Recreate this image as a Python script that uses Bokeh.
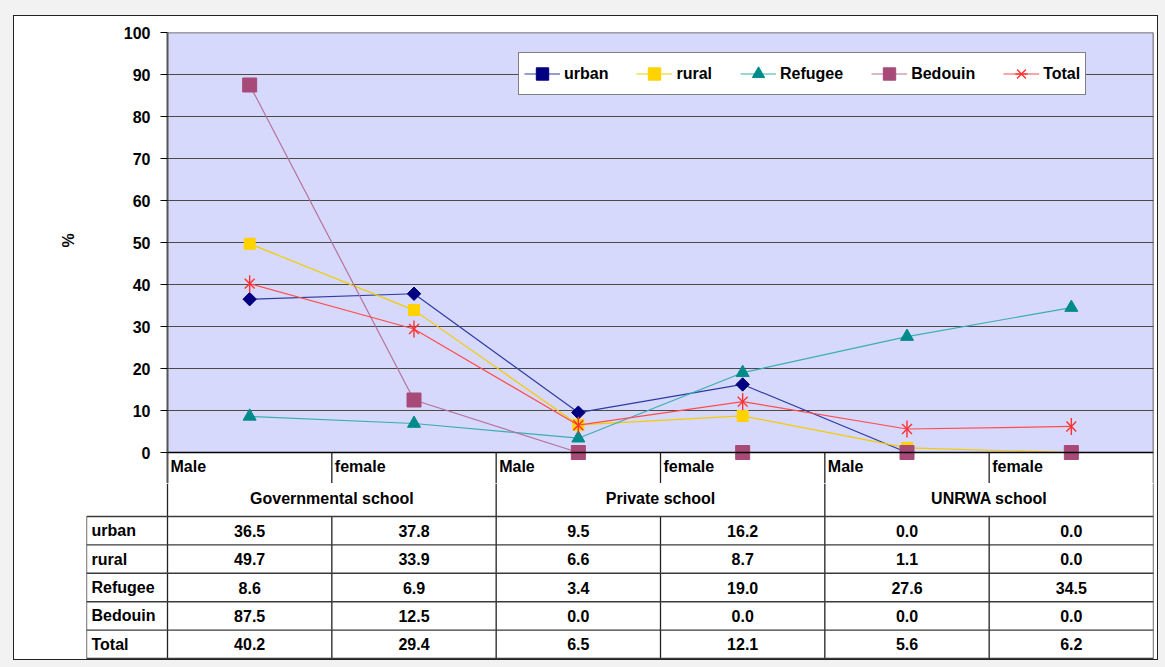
from bokeh.plotting import figure
from bokeh.models import Range1d, FixedTicker, Legend, LegendItem, Span
from bokeh.layouts import column, row
from bokeh.embed import file_html
from bokeh.resources import INLINE
from bokeh.core.properties import value
import math

# ---------------- data ----------------
schools = ["Governmental school", "Private school", "UNRWA school"]
genders = ["Male", "female"]
series_names = ["urban", "rural", "Refugee", "Bedouin", "Total"]
urban = [36.5, 37.8, 9.5, 16.2, 0.0, 0.0]
rural = [49.7, 33.9, 6.6, 8.7, 1.1, 0.0]
refugee = [8.6, 6.9, 3.4, 19.0, 27.6, 34.5]
bedouin = [87.5, 12.5, 0.0, 0.0, 0.0, 0.0]
total = [40.2, 29.4, 6.5, 12.1, 5.6, 6.2]
y_ticks = [0, 10, 20, 30, 40, 50, 60, 70, 80, 90, 100]
y_label = "%"

series_values = [urban, rural, refugee, bedouin, total]

# ---------------- style ----------------
FONT = "Liberation Sans"
FS = "16px"
OX, OY = 14, 16      # white chart area offset inside the grey page
W = 1143             # total width of the white chart area
W_LBL = 100          # width of the strip holding the y-axis title
LEFT = 167 - OX      # frame left measured from the white area's left edge
RIGHT = 4
TOP = 32 - OY
ZERO_Y = 452         # page y of value 0
SPLIT_Y = 483        # page y where the table figure starts
BOT_Y = 659
TOP_H = SPLIT_Y - OY
TBL_H = BOT_Y - SPLIT_Y
PX_PER_Y = 4.2
Y_START = -(SPLIT_Y - ZERO_Y) / PX_PER_Y
n_cat = len(schools) * len(genders)
ppu = (W - LEFT - RIGHT) / n_cat
x_pos = [i + 0.5 for i in range(n_cat)]
cat_labels = [g for s in schools for g in genders]

line_colors = ["#2E3CA0", "#F2CC00", "#3AAFAF", "#B5739A", "#FF4D4D"]
marker_colors = ["#000080", "#FFD200", "#008B8B", "#A84A78", "#FF3030"]
txt = dict(text_font=value(FONT), text_font_size=FS, text_font_style="bold", text_color="black")

common = dict(output_backend="svg", toolbar_location=None,
              background_fill_color="white", border_fill_color="white",
              outline_line_color=None)

# ---------------- y-axis title strip ----------------
lbl = figure(width=W_LBL, height=TOP_H, x_range=Range1d(OX, OX + W_LBL),
             y_range=Range1d(SPLIT_Y, OY), x_axis_location=None, y_axis_location=None,
             min_border_left=0, min_border_right=0, min_border_top=0, min_border_bottom=0,
             **common)
lbl.frame_align = False
lbl.xgrid.visible = False
lbl.ygrid.visible = False
lbl.text(x=[68], y=[240], text=[y_label], angle=math.pi / 2,
         text_align="center", text_baseline="middle", **txt)

# ---------------- chart ----------------
p = figure(width=W - W_LBL, height=TOP_H, x_range=Range1d(0, n_cat),
           y_range=Range1d(Y_START, 100), x_axis_location=None,
           min_border_left=LEFT - W_LBL, min_border_right=RIGHT,
           min_border_top=TOP, min_border_bottom=0, **common)
p.frame_align = False

bg = p.quad(left=0, right=n_cat, bottom=0, top=100, fill_color="#D6D8FC", line_color=None)
bg.level = "image"

p.xgrid.visible = False
p.ygrid.ticker = FixedTicker(ticks=y_ticks)
p.ygrid.grid_line_color = "#4A4A4A"
p.ygrid.grid_line_width = 1.2

ax = p.yaxis[0]
ax.ticker = FixedTicker(ticks=y_ticks)
ax.major_label_text_font = FONT
ax.major_label_text_font_size = FS
ax.major_label_text_font_style = "bold"
ax.major_label_text_color = "black"
ax.axis_line_color = "#555555"
ax.axis_line_width = 2
ax.major_tick_out = 7
ax.major_tick_in = 0
ax.major_tick_line_color = "black"
ax.minor_tick_line_color = None
ax.major_label_standoff = 10

p.add_layout(Span(location=0, dimension="width", line_color="black", line_width=1.5))
p.add_layout(Span(location=n_cat, dimension="height", line_color="#333333", line_width=1.5))
p.add_layout(Span(location=100, dimension="width", line_color="#4A4A4A", line_width=1.5))
# category separators below the zero line
sep_x = [i for i in range(1, n_cat)]
p.segment(x0=sep_x, y0=[0] * len(sep_x), x1=sep_x, y1=[Y_START] * len(sep_x),
          line_color="#222222", line_width=1.3)
# category labels (Male / female)
p.text(x=list(range(n_cat)), y=[-(466 - ZERO_Y) / PX_PER_Y] * n_cat, text=cat_labels,
       x_offset=3, text_align="left", text_baseline="middle", **txt)

items = []
r_line = p.line(x_pos, urban, line_color=line_colors[0], line_width=1.2)
r_mk = p.scatter(x_pos, urban, marker="square", angle=math.pi / 4, size=9.5,
                 fill_color=marker_colors[0], line_color=marker_colors[0])
items.append(LegendItem(label=series_names[0], renderers=[r_line, r_mk]))

r_line = p.line(x_pos, rural, line_color=line_colors[1], line_width=1.2)
r_mk = p.scatter(x_pos, rural, marker="square", size=11,
                 fill_color=marker_colors[1], line_color=marker_colors[1])
items.append(LegendItem(label=series_names[1], renderers=[r_line, r_mk]))

r_line = p.line(x_pos, refugee, line_color=line_colors[2], line_width=1.2)
r_mk = p.scatter(x_pos, refugee, marker="triangle", size=13,
                 fill_color=marker_colors[2], line_color=marker_colors[2])
items.append(LegendItem(label=series_names[2], renderers=[r_line, r_mk]))

r_line = p.line(x_pos, bedouin, line_color=line_colors[3], line_width=1.2)
r_mk = p.scatter(x_pos, bedouin, marker="square", size=14,
                 fill_color=marker_colors[3], line_color=marker_colors[3])
items.append(LegendItem(label=series_names[3], renderers=[r_line, r_mk]))

r_line = p.line(x_pos, total, line_color=line_colors[4], line_width=1.2)
r_x = p.scatter(x_pos, total, marker="x", size=14, line_color=marker_colors[4], line_width=1.4)
r_d = p.scatter(x_pos, total, marker="dash", angle=math.pi / 2, size=17,
                line_color=marker_colors[4], line_width=1.4)
items.append(LegendItem(label=series_names[4], renderers=[r_line, r_x, r_d]))

legend = Legend(items=items, orientation="horizontal",
                location=(518 - 167, SPLIT_Y - 95),
                glyph_width=36, glyph_height=31, label_standoff=4, spacing=28,
                padding=5, margin=0, border_line_color="black", border_line_width=1,
                background_fill_color="white", background_fill_alpha=1,
                label_text_font=FONT, label_text_font_size=FS,
                label_text_font_style="bold", label_text_color="black")
p.add_layout(legend, "center")

# ---------------- data table ----------------
TL = 86 - OX
x0 = -(LEFT - TL) / ppu
t = figure(width=W, height=TBL_H, x_range=Range1d(x0, n_cat),
           y_range=Range1d(BOT_Y, SPLIT_Y),
           x_axis_location=None, y_axis_location=None,
           min_border_left=TL, min_border_right=RIGHT, min_border_top=0, min_border_bottom=0,
           **common)
t.frame_align = False
t.xgrid.visible = False
t.ygrid.visible = False

grp_y = 498
tbl_top = 516
tbl_bot = 658
row_h = (tbl_bot - tbl_top) / len(series_names)

full_x = [i for i in range(0, n_cat + 1, 2)]
t.segment(x0=full_x, y0=[SPLIT_Y] * len(full_x), x1=full_x, y1=[tbl_bot] * len(full_x),
          line_color="#222222", line_width=1.3)
half_x = [i for i in range(1, n_cat, 2)]
t.segment(x0=half_x + [x0], y0=[tbl_top] * (len(half_x) + 1), x1=half_x + [x0],
          y1=[tbl_bot] * (len(half_x) + 1), line_color="#222222", line_width=1.3)
h_y = [tbl_top + i * row_h for i in range(len(series_names) + 1)]
t.segment(x0=[x0] * len(h_y), y0=h_y, x1=[n_cat] * len(h_y), y1=h_y,
          line_color="#3A3A3A", line_width=1.4)

t.text(x=[2 * i + 1 for i in range(len(schools))], y=[grp_y] * len(schools), text=schools,
       text_align="center", text_baseline="middle", **txt)
row_c = [tbl_top + (i + 0.5) * row_h for i in range(len(series_names))]
t.text(x=[x0] * len(series_names), y=row_c, text=series_names, x_offset=5,
       text_align="left", text_baseline="middle", **txt)
vx, vy, vt = [], [], []
for i, vals in enumerate(series_values):
    for j, v in enumerate(vals):
        vx.append(x_pos[j]); vy.append(row_c[i]); vt.append(f"{v:.1f}")
t.text(x=vx, y=vy, text=vt, text_align="center", text_baseline="middle", **txt)

top_row = row(lbl, p, spacing=0)
inner = column(top_row, t, spacing=0, styles={"outline": "1px solid #222222",
                                              "background-color": "white"})
layout = column(inner, styles={"background-color": "#F2F2F2",
                               "padding": f"{OY}px 8px 8px {OX}px"})
open("out.html", "w").write(file_html(layout, INLINE))
